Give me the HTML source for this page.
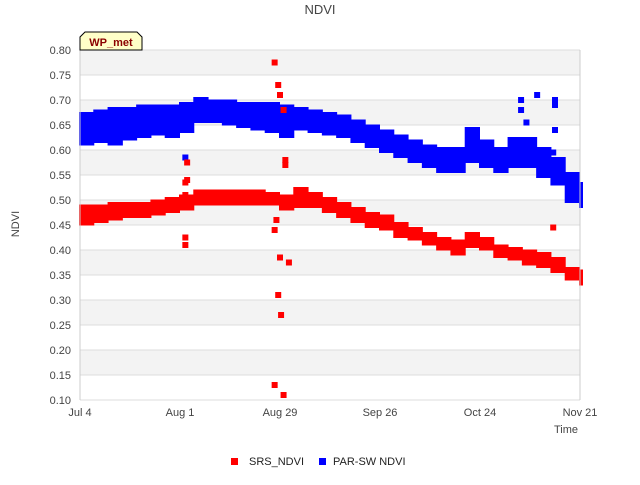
<!DOCTYPE html>
<html><head><meta charset="utf-8"><style>
body{margin:0;background:#fff;font-family:"Liberation Sans",sans-serif;}
svg text{font-family:"Liberation Sans",sans-serif;}
</style></head><body>
<svg width="640" height="480" viewBox="0 0 640 480" xmlns="http://www.w3.org/2000/svg">
<g id="bands"></g>
<g id="grid"></g>
<g id="marks"></g>
<g id="axes"></g>
<text x="320" y="14" text-anchor="middle" font-size="13" fill="#444">NDVI</text>
<text transform="translate(19,224) rotate(-90)" text-anchor="middle" font-size="11" fill="#444">NDVI</text>
<text x="578" y="433" text-anchor="end" font-size="11" fill="#444">Time</text>
<g>
<path d="M80,50 L80,37 L85,32 L137,32 L142,37 L142,50 Z" fill="#ffffc8" stroke="#000" stroke-width="1"/>
<text x="111" y="46" text-anchor="middle" font-size="11" font-weight="bold" fill="#8b0000">WP_met</text>
</g>
<g>
<g><rect x="231" y="458" width="7" height="7" fill="#f00"/><text x="249" y="465" font-size="11" fill="#222">SRS_NDVI</text></g>
<g><rect x="319" y="458" width="7" height="7" fill="#00f"/><text x="333" y="465" font-size="11" fill="#222">PAR-SW NDVI</text></g>
</g>
</svg>
<script>
const days = [0,4,8,12,16,20,24,28,32,36,40,44,48,52,56,60,64,68,72,76,80,84,88,92,96,100,104,108,112,116,120,124,128,132,136,140];
const srsLo = [0.455,0.46,0.465,0.47,0.47,0.475,0.48,0.485,0.495,0.495,0.495,0.495,0.495,0.495,0.485,0.49,0.49,0.48,0.47,0.46,0.45,0.445,0.43,0.425,0.415,0.405,0.395,0.41,0.405,0.39,0.385,0.375,0.37,0.36,0.345,0.335];
const srsHi = [0.485,0.485,0.49,0.49,0.49,0.495,0.5,0.505,0.515,0.515,0.515,0.515,0.515,0.51,0.505,0.52,0.51,0.5,0.49,0.48,0.47,0.465,0.45,0.44,0.43,0.42,0.415,0.43,0.42,0.405,0.4,0.395,0.39,0.38,0.36,0.355];
const parLo = [0.615,0.62,0.615,0.625,0.63,0.635,0.63,0.64,0.66,0.66,0.655,0.65,0.645,0.64,0.63,0.645,0.64,0.635,0.63,0.62,0.61,0.6,0.59,0.58,0.57,0.56,0.56,0.58,0.57,0.56,0.57,0.57,0.55,0.535,0.5,0.49];
const parHi = [0.67,0.675,0.68,0.68,0.685,0.685,0.685,0.69,0.7,0.695,0.695,0.69,0.69,0.69,0.685,0.68,0.675,0.67,0.665,0.655,0.645,0.635,0.625,0.615,0.605,0.6,0.6,0.64,0.615,0.6,0.62,0.62,0.6,0.58,0.55,0.53];
const srsOutDays = [54.5,55.5,56,57,57.5,57.5,30,30,29.5,29.5,29.5,29.5,54.5,55,56,55.5,56.3,58.5,54.5,57,132.5];
const srsOutVals = [0.775,0.73,0.71,0.68,0.58,0.57,0.575,0.54,0.535,0.51,0.425,0.41,0.44,0.46,0.385,0.31,0.27,0.375,0.13,0.11,0.445];
const parOutDays = [29.5,128,123.5,123.5,133,133,125,133,132.5];
const parOutVals = [0.585,0.71,0.70,0.68,0.70,0.69,0.655,0.64,0.595];
const yTicks = [0.10,0.15,0.20,0.25,0.30,0.35,0.40,0.45,0.50,0.55,0.60,0.65,0.70,0.75,0.80];
const xTickDays = [0,28,56,84,112,140];
const xTickLabels = ["Jul 4","Aug 1","Aug 29","Sep 26","Oct 24","Nov 21"];

const NS="http://www.w3.org/2000/svg";
const X=d=>80+d*500/140;
const Y=v=>400-(v-0.1)*500;
function mk(parent,tag,attrs){const e=document.createElementNS(NS,tag);for(const k in attrs)e.setAttribute(k,attrs[k]);document.getElementById(parent).appendChild(e);return e;}

for(let i=0;i<yTicks.length-1;i++){
  if((yTicks.length-2-i)%2===0){
    const b=mk('bands','rect',{x:80,y:Y(yTicks[i+1]),width:500,height:Y(yTicks[i])-Y(yTicks[i+1]),fill:'#f3f3f3'});
    
    
  }
}
yTicks.forEach(v=>{
  const l=mk('grid','line',{x1:80,x2:580,y1:Y(v),y2:Y(v),stroke:'#ddd','stroke-width':1});
  
  
  const t=mk('axes','text',{x:71,y:Y(v)+4,'text-anchor':'end','font-size':11,fill:'#444'});
  t.textContent=v.toFixed(2);
  
  
});
const ax=mk('axes','line',{x1:80,x2:80,y1:50,y2:400,stroke:'#ccc'});


const ax2=mk('axes','line',{x1:580,x2:580,y1:50,y2:400,stroke:'#ccc'});


xTickDays.forEach((d,i)=>{
  const t=mk('axes','text',{x:X(d),y:416,'text-anchor':'middle','font-size':11,fill:'#444'});
  t.textContent=xTickLabels[i];
  
  
});
function band(lo,hi,color,name){
  for(let i=0;i<days.length;i++){
    const x0=X(days[i])-1, w=(i<days.length-1?X(days[i+1])-X(days[i]):3)+1;
    const r=mk('marks','rect',{x:x0,y:Y(hi[i])-3,width:w,height:Y(lo[i])-Y(hi[i])+6,fill:color});
    
    
  }
}
band(parLo,parHi,'#00f','par-sw-ndvi-points');
band(srsLo,srsHi,'#f00','srs-ndvi-points');
function pts(ds,vs,color,name){
  ds.forEach((d,i)=>{
    const r=mk('marks','rect',{x:X(d)-3,y:Y(vs[i])-3,width:6,height:6,fill:color});
    
    
  });
}
pts(parOutDays,parOutVals,'#00f','par-sw-ndvi-outlier');
pts(srsOutDays,srsOutVals,'#f00','srs-ndvi-outlier');
</script>
</body></html>
